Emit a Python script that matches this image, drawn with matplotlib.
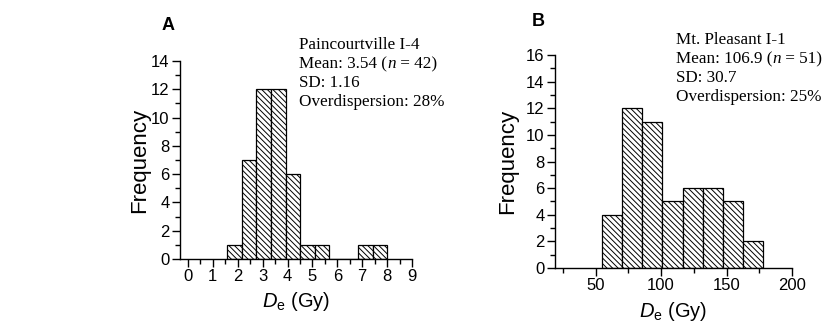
import matplotlib
matplotlib.use("Agg")
import matplotlib.pyplot as plt
import numpy as np
from matplotlib.ticker import MultipleLocator

plt.rcParams['font.family'] = ['Liberation Sans', 'DejaVu Sans']
plt.rcParams['mathtext.fontset'] = 'custom'
plt.rcParams['mathtext.rm'] = 'Liberation Sans'
plt.rcParams['mathtext.it'] = 'Liberation Sans:italic'
plt.rcParams['hatch.linewidth'] = 0.7

# panel A: Paincourtville I-4
a_start, a_width = 1.58, 0.585
a_counts = [1, 7, 12, 12, 6, 1, 1, 0, 0, 1, 1]
# panel B: Mt. Pleasant I-1
b_start, b_width = 54.8, 15.4
b_counts = [4, 12, 11, 5, 6, 6, 5, 2]

a_lines = ["Paincourtville I-4", ("Mean: 3.54 (", "n", " = 42)"), "SD: 1.16", "Overdispersion: 28%"]
b_lines = ["Mt. Pleasant I-1", ("Mean: 106.9 (", "n", " = 51)"), "SD: 30.7", "Overdispersion: 25%"]

W, H = 828, 323
fig = plt.figure(figsize=(W / 100, H / 100), dpi=100)


def px_axes(l, r, t, b):
    return fig.add_axes([l / W, 1 - b / H, (r - l) / W, (b - t) / H])


def hist_panel(ax, start, width, counts, xlim, ylim, xmaj, xmin):
    edges = start + width * np.arange(len(counts))
    ax.bar(edges, counts, width=width, align='edge', facecolor='white',
           edgecolor='black', linewidth=0.9, hatch='\\\\\\\\\\\\')
    ax.set_xlim(*xlim)
    ax.set_ylim(*ylim)
    ax.xaxis.set_major_locator(MultipleLocator(xmaj))
    ax.xaxis.set_minor_locator(MultipleLocator(xmin))
    ax.yaxis.set_major_locator(MultipleLocator(2))
    ax.yaxis.set_minor_locator(MultipleLocator(1))
    for s in ['top', 'right']:
        ax.spines[s].set_visible(False)
    for s in ['left', 'bottom']:
        ax.spines[s].set_linewidth(1.0)
    ax.tick_params(which='major', direction='out', length=6, width=1.0, labelsize=12, pad=1.5)
    ax.tick_params(which='minor', direction='out', length=3.5, width=1.0)
    ax.set_ylabel('Frequency', fontsize=16)
    ax.set_xlabel(r'$D_\mathrm{e}$ (Gy)', fontsize=14.5)


def info_text(x, y0, lines, dy=19):
    for i, ln in enumerate(lines):
        y = 1 - (y0 + i * dy) / H
        if isinstance(ln, str):
            fig.text(x / W, y, ln, family='Liberation Serif', fontsize=12.3, va='center_baseline')
        else:
            prev = fig.text(x / W, y, ln[0], family='Liberation Serif', fontsize=12.3,
                            va='center_baseline')
            for j, piece in enumerate(ln[1:]):
                style = 'italic' if j == 0 else 'normal'
                prev = plt.annotate(piece, xy=(1, y), xycoords=(prev, 'figure fraction'),
                                    family='Liberation Serif', fontsize=12.3, style=style,
                                    va='center_baseline', ha='left', annotation_clip=False)


axA = px_axes(180, 412, 61, 259)
hist_panel(axA, a_start, a_width, a_counts, (-0.32, 9), (0, 14), 1, 0.5)
axA.yaxis.set_label_coords(-0.13, 0.5)
axA.xaxis.set_label_coords(0.5, -0.155)

axB = px_axes(555, 792, 55, 268)
hist_panel(axB, b_start, b_width, b_counts, (19, 200), (0, 16), 50, 25)
axB.yaxis.set_label_coords(-0.156, 0.5)
axB.xaxis.set_label_coords(0.5, -0.15)

fig.text(168 / W, 1 - 25 / H, 'A', fontsize=13, fontweight='bold', ha='center', va='center')
fig.text(538 / W, 1 - 22 / H, 'B', fontsize=13, fontweight='bold', ha='center', va='center')

info_text(299, 43, a_lines)
info_text(676, 38, b_lines)

fig.savefig('out.png', dpi=100)
